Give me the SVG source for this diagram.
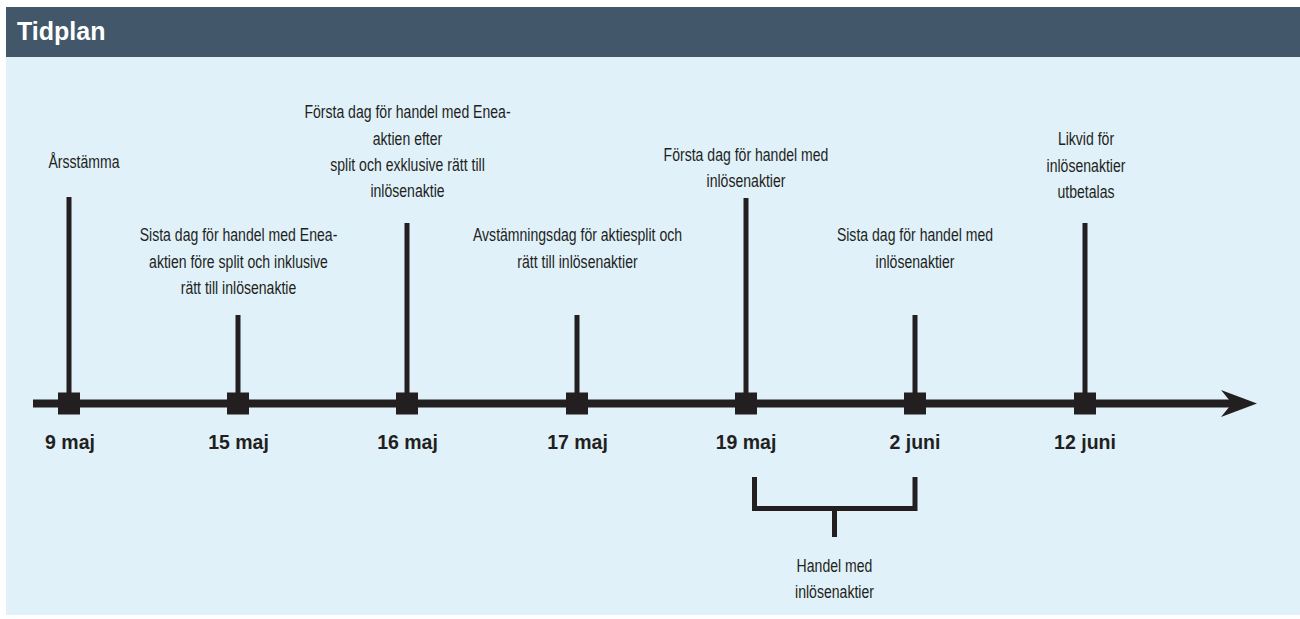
<svg xmlns="http://www.w3.org/2000/svg" width="1300" height="619" viewBox="0 0 1300 619">
<defs>
<style>
.lbl{font-family:"Liberation Sans",Arial,sans-serif;font-size:18.5px;fill:#231f20;text-anchor:middle}
.date{font-family:"Liberation Sans",Arial,sans-serif;font-size:19.5px;font-weight:bold;fill:#231f20;text-anchor:middle}
.stem{stroke:#231f20;stroke-width:5;fill:none}
.sq{fill:#231f20}
</style>
</defs>
<rect x="6" y="7" width="1294" height="50" fill="#42576a"/>
<rect x="6" y="57" width="1294" height="558" fill="#e0f1fa"/>
<text x="17" y="40" font-family="Liberation Sans,Arial,sans-serif" font-size="25" font-weight="bold" fill="#ffffff">Tidplan</text>
<g id="connectors">
<line x1="33" y1="403.5" x2="1232" y2="403.5" stroke="#231f20" stroke-width="8"/>
<polygon points="1221,390 1257,403.5 1221,417 1232,403.5" fill="#231f20"/>
<polyline class="stem" points="754.5,477 754.5,508.5 915,508.5 915,477"/>
<line class="stem" x1="834.5" y1="508.5" x2="834.5" y2="537"/>
</g>
<g id="n-9maj">
<line class="stem" x1="69" y1="197" x2="69" y2="403"/>
<rect class="sq" x="58" y="392.5" width="22" height="22"/>
<text class="lbl" transform="translate(84,168) scale(0.76,1)">Årsstämma</text>
<text class="date" x="70" y="449">9 maj</text>
</g>
<g id="n-15maj">
<line class="stem" x1="238" y1="315" x2="238" y2="403"/>
<rect class="sq" x="227" y="392.5" width="22" height="22"/>
<text class="lbl" transform="translate(238.5,241) scale(0.76,1)">Sista dag för handel med Enea-</text>
<text class="lbl" transform="translate(238.5,267.5) scale(0.76,1)">aktien före split och inklusive</text>
<text class="lbl" transform="translate(238.5,294) scale(0.76,1)">rätt till inlösenaktie</text>
<text class="date" x="238.5" y="449">15 maj</text>
</g>
<g id="n-16maj">
<line class="stem" x1="407" y1="223" x2="407" y2="403"/>
<rect class="sq" x="396" y="392.5" width="22" height="22"/>
<text class="lbl" transform="translate(407.5,118) scale(0.76,1)">Första dag för handel med Enea-</text>
<text class="lbl" transform="translate(407.5,144.5) scale(0.76,1)">aktien efter</text>
<text class="lbl" transform="translate(407.5,171) scale(0.76,1)">split och exklusive rätt till</text>
<text class="lbl" transform="translate(407.5,197) scale(0.76,1)">inlösenaktie</text>
<text class="date" x="407.5" y="449">16 maj</text>
</g>
<g id="n-17maj">
<line class="stem" x1="577" y1="315" x2="577" y2="403"/>
<rect class="sq" x="566" y="392.5" width="22" height="22"/>
<text class="lbl" transform="translate(577.5,241) scale(0.76,1)">Avstämningsdag för aktiesplit och</text>
<text class="lbl" transform="translate(577.5,267.5) scale(0.76,1)">rätt till inlösenaktier</text>
<text class="date" x="577.5" y="449">17 maj</text>
</g>
<g id="n-19maj">
<line class="stem" x1="746" y1="198" x2="746" y2="403"/>
<rect class="sq" x="735" y="392.5" width="22" height="22"/>
<text class="lbl" transform="translate(746,160.5) scale(0.76,1)">Första dag för handel med</text>
<text class="lbl" transform="translate(746,187) scale(0.76,1)">inlösenaktier</text>
<text class="date" x="746" y="449">19 maj</text>
</g>
<g id="n-2juni">
<line class="stem" x1="915" y1="315" x2="915" y2="403"/>
<rect class="sq" x="904" y="392.5" width="22" height="22"/>
<text class="lbl" transform="translate(915,241) scale(0.76,1)">Sista dag för handel med</text>
<text class="lbl" transform="translate(915,267.5) scale(0.76,1)">inlösenaktier</text>
<text class="date" x="915" y="449">2 juni</text>
</g>
<g id="n-12juni">
<line class="stem" x1="1085" y1="223" x2="1085" y2="403"/>
<rect class="sq" x="1074" y="392.5" width="22" height="22"/>
<text class="lbl" transform="translate(1086,145) scale(0.76,1)">Likvid för</text>
<text class="lbl" transform="translate(1086,171.5) scale(0.76,1)">inlösenaktier</text>
<text class="lbl" transform="translate(1086,198) scale(0.76,1)">utbetalas</text>
<text class="date" x="1085" y="449">12 juni</text>
</g>
<g id="n-handel">
<text class="lbl" transform="translate(834.5,572) scale(0.76,1)">Handel med</text>
<text class="lbl" transform="translate(834.5,598) scale(0.76,1)">inlösenaktier</text>
</g>
</svg>
